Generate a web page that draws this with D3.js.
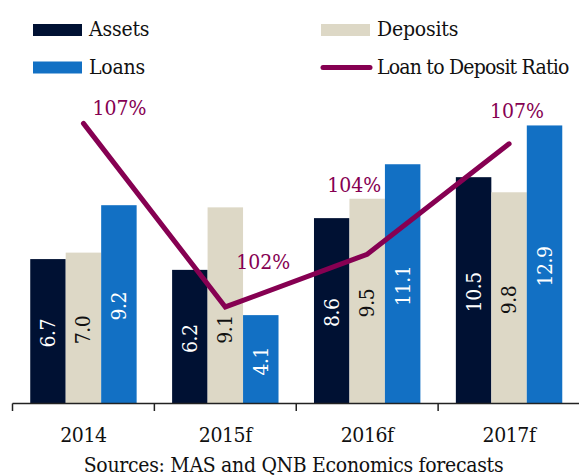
<!DOCTYPE html>
<html>
<head>
<meta charset="utf-8">
<script src="https://cdn.jsdelivr.net/npm/d3@7"></script>
<style>
  body { margin: 0; background: #fff; }
  svg { display: block; }
  text { font-family: "DejaVu Serif Condensed", "DejaVu Serif", serif; font-stretch: condensed; }
</style>
</head>
<body>
<svg id="chart" width="579" height="476"></svg>
<script>
const categories = ["2014", "2015f", "2016f", "2017f"];
const seriesNames = ["Assets", "Deposits", "Loans"];
const assets = [6.7, 6.2, 8.6, 10.5];
const deposits = [7.0, 9.1, 9.5, 9.8];
const loans = [9.2, 4.1, 11.1, 12.9];
const ratio = [107.4, 102.0, 103.55, 106.8];
const ratioName = "Loan to Deposit Ratio";
const sourceText = "Sources: MAS and QNB Economics forecasts";

// label nudges for the ratio percentages (hand placed in the original)
const ratioLabelNudge = [[36, -8], [38, -38], [-13, -62], [8, -26]];

const colours = {"Assets": "#001133", "Deposits": "#ddd8c6", "Loans": "#1270c4"};
const lineColour = "#860052";
const labelColour = {"Assets": "#fff", "Deposits": "#111", "Loans": "#fff"};

function drawChart(holder){
	let svg = d3.select(holder);
	let baseY = 403.5;

	let x = d3.scaleBand().domain(categories).range([12.5, 580])
		.paddingInner(0.25).paddingOuter(0.125);
	let xs = d3.scaleBand().domain(seriesNames).range([0, x.bandwidth()]);
	let y = d3.scaleLinear().domain([0, 18.72]).range([baseY, 0]);
	let y2 = d3.scaleLinear().domain([99.16, 111.03]).range([baseY, 0]);

	let rows = categories.map((c, i) => ({
		cat: c,
		values: [
			{key: "Assets", value: assets[i]},
			{key: "Deposits", value: deposits[i]},
			{key: "Loans", value: loans[i]}
		]
	}));

	let groups = svg.append("g").selectAll("g")
		.data(rows)
		.enter().append("g")
		.attr("transform", d => `translate(${x(d.cat)},0)`);

	groups.selectAll("rect")
		.data(d => d.values)
		.enter().append("rect")
		.attr("x", d => xs(d.key))
		.attr("y", d => y(d.value))
		.attr("width", xs.bandwidth())
		.attr("height", d => baseY - y(d.value))
		.attr("fill", d => colours[d.key]);

	groups.selectAll("text")
		.data(d => d.values.map(v => Object.assign({cat: d.cat}, v)))
		.enter().append("text")
		.attr("transform", function(d){
			let cx = xs(d.key) + xs.bandwidth() / 2;
			let cy = (y(d.value) + baseY) / 2 + 2;
			// the 2015f deposits label sits lower so the line does not cross it
			if (d.cat === "2015f" && d.key === "Deposits"){
				cy += 22;
			}
			return `translate(${cx},${cy}) rotate(-90)`;
		})
		.attr("text-anchor", "middle")
		.attr("dominant-baseline", "central")
		.attr("font-size", 21)
		.attr("letter-spacing", -0.5)
		.attr("fill", d => labelColour[d.key])
		.text(d => d.value.toFixed(1));

	// ratio line
	let line = d3.line()
		.x((d, i) => x(categories[i]) + x.bandwidth() / 2)
		.y(d => y2(d));

	svg.append("path")
		.datum(ratio)
		.attr("d", line)
		.attr("fill", "none")
		.attr("stroke", lineColour)
		.attr("stroke-width", 5)
		.attr("stroke-linecap", "round")
		.attr("stroke-linejoin", "miter");

	svg.append("g").selectAll("text")
		.data(ratio)
		.enter().append("text")
		.attr("x", (d, i) => x(categories[i]) + x.bandwidth() / 2 + ratioLabelNudge[i][0])
		.attr("y", (d, i) => y2(d) + ratioLabelNudge[i][1])
		.attr("text-anchor", "middle")
		.attr("font-size", 21)
		.attr("fill", lineColour)
		.text(d => d3.format(".0f")(d) + "%");

	// x axis with ticks between the categories
	let axis = svg.append("g");
	let step = x.step();
	let start = x(categories[0]) - step * x.paddingOuter();
	axis.append("line")
		.attr("x1", start).attr("x2", 579)
		.attr("y1", baseY).attr("y2", baseY)
		.attr("stroke", "#222").attr("stroke-width", 1.5);
	axis.selectAll(".tick")
		.data(d3.range(categories.length + 1))
		.enter().append("line")
		.attr("class", "tick")
		.attr("x1", i => start + i * step).attr("x2", i => start + i * step)
		.attr("y1", baseY).attr("y2", baseY + 7.5)
		.attr("stroke", "#222").attr("stroke-width", 1.5);
	axis.selectAll("text")
		.data(categories)
		.enter().append("text")
		.attr("x", d => x(d) + x.bandwidth() / 2)
		.attr("y", 441.5)
		.attr("text-anchor", "middle")
		.attr("font-size", 21)
		.attr("letter-spacing", -0.4)
		.attr("fill", "#111")
		.text(d => d);

	svg.append("text")
		.attr("x", 293.5)
		.attr("y", 472)
		.attr("text-anchor", "middle")
		.attr("font-size", 21)
		.attr("letter-spacing", -0.3)
		.attr("fill", "#111")
		.text(sourceText);

	// legend
	let legendItems = [
		{name: "Assets", x: 33, y: 30, type: "rect"},
		{name: "Deposits", x: 321, y: 30, type: "rect"},
		{name: "Loans", x: 33, y: 67.5, type: "rect"},
		{name: ratioName, x: 321, y: 67.5, type: "line"}
	];
	let legend = svg.append("g").attr("class", "legend");
	legendItems.forEach(function(item){
		let g = legend.append("g").attr("transform", `translate(${item.x},${item.y})`);
		if (item.type === "rect"){
			g.append("rect")
				.attr("x", 0).attr("y", -6)
				.attr("width", 49).attr("height", 12)
				.attr("fill", colours[item.name]);
		} else {
			g.append("line")
				.attr("x1", 2).attr("x2", 49)
				.attr("y1", 0).attr("y2", 0)
				.attr("stroke", lineColour)
				.attr("stroke-width", 5)
				.attr("stroke-linecap", "round");
		}
		g.append("text")
			.attr("x", 56)
			.attr("y", 6)
			.attr("font-size", 21)
			.attr("letter-spacing", item.type === "line" ? -0.8 : -0.2)
			.attr("fill", "#111")
			.text(item.name);
	});
}

drawChart("#chart");
</script>
</body>
</html>
